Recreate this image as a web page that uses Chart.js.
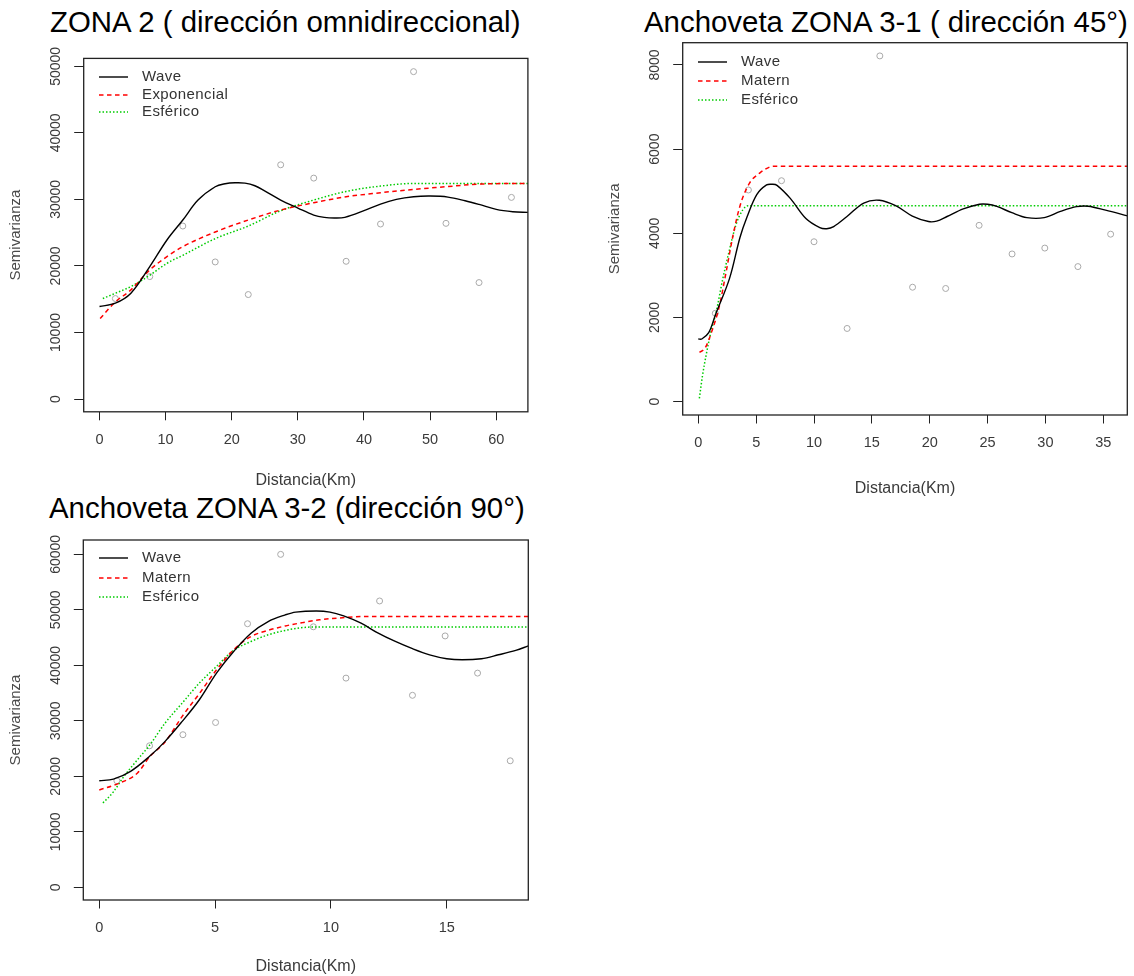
<!DOCTYPE html>
<html lang="es">
<head>
<meta charset="utf-8">
<title>Semivariogramas de anchoveta</title>
<script src="https://cdn.jsdelivr.net/npm/chart.js@4.4.1/dist/chart.umd.min.js"></script>
<style>
  html, body { margin: 0; padding: 0; background: #ffffff; }
  body { position: relative; width: 1134px; height: 976px; overflow: hidden;
         font-family: "Liberation Sans", Arial, sans-serif; }
  .panel-title { position: absolute; margin: 0; font-size: 29.4px; line-height: 34px;
                 font-weight: normal; color: #000; white-space: nowrap; }
  canvas { position: absolute; }
</style>
</head>
<body>
<h2 class="panel-title" style="left:50px; top:4.5px;">ZONA 2 ( dirección omnidireccional)</h2>
<h2 class="panel-title" style="left:644px; top:4.5px;">Anchoveta ZONA 3-1 ( dirección 45°)</h2>
<h2 class="panel-title" style="left:49px; top:491px;">Anchoveta ZONA 3-2 (dirección 90°)</h2>

<canvas id="zona2" width="545" height="490" style="left:0; top:0;"></canvas>
<canvas id="zona31" width="534" height="498" style="left:600px; top:0;"></canvas>
<canvas id="zona32" width="545" height="506" style="left:0; top:470px;"></canvas>

<script>
// ---------- ZONA 2 (omnidireccional) ----------
const zona2Lags  = [2.4, 7.6, 12.6, 17.5, 22.5, 27.4, 32.4, 37.3, 42.5, 47.5, 52.4, 57.4, 62.3];
const zona2Gamma = [15100, 18400, 26000, 20600, 15700, 35200, 33200, 20700, 26300, 49200, 26400, 17500, 30300];
const zona2WaveX = [0, 2.4, 4.75, 7.6, 10.2, 12.6, 14.9, 17.5, 19.0, 20.5, 22.0, 23.5, 25.1, 27.4, 30.0, 32.4, 34.0, 35.5, 37.1, 40.0, 42.5, 44.9, 47.5, 50.0, 52.7, 55.3, 57.4, 60.0, 62.5, 64.8];
const zona2WaveY = [13900, 14400, 15900, 19900, 23900, 26900, 29900, 31900, 32350, 32500, 32450, 32050, 31200, 29900, 28700, 27650, 27300, 27200, 27300, 28300, 29300, 30000, 30400, 30500, 30350, 29800, 29250, 28500, 28150, 28050];
const zona2ExpX  = [0.1, 2.4, 4.75, 7.6, 10.2, 12.6, 17.5, 22.5, 27.4, 32.4, 37.3, 42.5, 47.5, 52.4, 57.4, 64.8];
const zona2ExpY  = [12100, 14600, 16400, 19400, 21400, 22900, 25100, 26900, 28400, 29500, 30400, 31000, 31500, 31900, 32300, 32400];
const zona2SphX  = [0.5, 2.4, 4.75, 7.6, 10.2, 12.6, 17.5, 22.5, 27.4, 32.4, 37.3, 42.5, 47.5, 64.8];
const zona2SphY  = [15100, 15900, 16900, 18600, 20400, 21600, 24100, 26000, 28300, 29900, 31200, 32000, 32400, 32400];
const zona2XTicks = [0, 10, 20, 30, 40, 50, 60];
const zona2YTicks = [0, 10000, 20000, 30000, 40000, 50000];

// ---------- ZONA 3-1 (dirección 45°) ----------
const zona31Lags  = [1.47, 4.33, 7.19, 10.0, 12.86, 15.69, 18.52, 21.38, 24.27, 27.12, 29.95, 32.81, 35.64];
const zona31Gamma = [2100, 5030, 5250, 3800, 1740, 8215, 2720, 2690, 4190, 3510, 3650, 3210, 3980];
const zona31WaveX = [0, 0.3, 0.9, 1.5, 2.7, 3.6, 4.2, 5.05, 5.9, 6.4, 6.8, 7.95, 9.3, 10.5, 11.1, 11.7, 12.85, 14.3, 15.65, 17.1, 18.5, 19.9, 20.6, 21.5, 22.9, 24.3, 25.0, 25.8, 27.1, 28.4, 29.9, 31.3, 32.7, 33.7, 35.2, 37.1];
const zona31WaveY = [1490, 1490, 1640, 2080, 2930, 3900, 4380, 4920, 5150, 5165, 5140, 4830, 4350, 4135, 4110, 4160, 4400, 4720, 4785, 4650, 4410, 4280, 4290, 4400, 4580, 4690, 4690, 4640, 4490, 4373, 4373, 4520, 4634, 4645, 4550, 4415];
const zona31MatX  = [0.1, 0.6, 1.2, 1.8, 2.45, 3.0, 3.6, 4.4, 5.3, 6.2, 6.6, 37.1];
const zona31MatY  = [1170, 1280, 1700, 2250, 3150, 3950, 4650, 5180, 5430, 5580, 5595, 5595];
const zona31SphX  = [0.09, 0.35, 0.72, 1.06, 1.55, 2.1, 2.6, 3.25, 3.85, 4.3, 37.1];
const zona31SphY  = [80, 600, 1170, 1620, 2140, 2900, 3500, 4200, 4560, 4655, 4655];
const zona31XTicks = [0, 5, 10, 15, 20, 25, 30, 35];
const zona31YTicks = [0, 2000, 4000, 6000, 8000];

// ---------- ZONA 3-2 (dirección 90°) ----------
const zona32Lags  = [0.76, 2.17, 3.61, 5.02, 6.4, 7.83, 9.24, 10.65, 12.1, 13.52, 14.93, 16.33, 17.74];
const zona32Gamma = [19200, 25500, 27500, 29700, 47500, 60000, 46950, 37700, 51600, 34600, 45300, 38600, 22800];
const zona32WaveX = [0, 0.61, 1.35, 2.17, 2.84, 3.58, 4.32, 5.06, 5.8, 6.55, 7.29, 8.03, 8.48, 9.37, 9.96, 10.55, 11.3, 12.0, 12.78, 13.52, 14.26, 15.0, 15.67, 16.5, 17.23, 17.98, 18.52];
const zona32WaveY = [19200, 19500, 20900, 23600, 26300, 29900, 33800, 38600, 42500, 45800, 47900, 49100, 49600, 49800, 49600, 48900, 47600, 45900, 44300, 43000, 41900, 41200, 41000, 41200, 41900, 42700, 43500];
const zona32MatX  = [0, 0.76, 1.65, 2.17, 2.84, 3.58, 4.32, 5.06, 5.8, 6.55, 7.29, 8.03, 8.77, 9.5, 10.25, 11.4, 18.52];
const zona32MatY  = [17550, 18600, 20600, 23500, 26200, 30800, 34900, 39200, 42800, 45200, 46300, 47100, 47700, 48200, 48500, 48800, 48800];
const zona32SphX  = [0.16, 0.61, 1.05, 1.65, 2.17, 2.84, 3.58, 4.32, 5.06, 5.8, 6.55, 7.29, 8.03, 8.77, 9.2, 18.52];
const zona32SphY  = [15200, 17200, 19900, 23000, 25600, 29600, 33200, 36800, 39800, 42700, 44300, 45500, 46300, 46800, 46900, 46900];
const zona32XTicks = [0, 5, 10, 15];
const zona32YTicks = [0, 10000, 20000, 30000, 40000, 50000, 60000];

const FONT = '"Liberation Sans", Arial, sans-serif';
const pairs = (xs, ys) => xs.map((x, i) => ({ x: x, y: ys[i] }));

// Fitted model curve (no markers); sill models use monotone splines so the plateau stays flat
function modelLine(label, xs, ys, color, dash, width, monotone) {
  return {
    label: label, data: pairs(xs, ys), showLine: true,
    borderColor: color, borderWidth: width, borderDash: dash,
    pointRadius: 0, pointHoverRadius: 0, fill: false,
    tension: 0.35, cubicInterpolationMode: monotone ? 'monotone' : 'default'
  };
}

// Empirical semivariance: open grey circles
function empirical(xs, ys) {
  return {
    label: 'empírico', isEmpirical: true, data: pairs(xs, ys), showLine: false,
    pointRadius: 3, pointHoverRadius: 3, pointBorderWidth: 1,
    borderColor: '#a9a9a9', backgroundColor: 'rgba(0,0,0,0)'
  };
}

// Box around the plotting region
const plotFrame = {
  id: 'plotFrame',
  afterDraw(chart) {
    const { ctx, chartArea: a } = chart;
    ctx.save();
    ctx.strokeStyle = '#222';
    ctx.lineWidth = 1.3;
    ctx.strokeRect(a.left, a.top, a.right - a.left, a.bottom - a.top);
    ctx.restore();
  }
};

// Legend drawn inside the top-left corner of the plotting region
const insetLegend = {
  id: 'insetLegend',
  afterDatasetsDraw(chart, args, o) {
    const { ctx, chartArea: a } = chart;
    ctx.save();
    ctx.font = o.fontSize + 'px ' + FONT;
    if ('letterSpacing' in ctx) ctx.letterSpacing = o.letterSpacing;
    ctx.textBaseline = 'middle';
    ctx.textAlign = 'left';
    let y = a.top + o.top;
    chart.data.datasets.forEach(ds => {
      if (ds.isEmpirical) return;
      const x0 = Math.round(a.left + o.left);
      const yy = Math.round(y);
      ctx.beginPath();
      ctx.setLineDash(ds.borderDash || []);
      ctx.strokeStyle = ds.borderColor;
      ctx.lineWidth = ds.borderWidth;
      ctx.moveTo(x0, yy);
      ctx.lineTo(x0 + o.lineLength, yy);
      ctx.stroke();
      ctx.setLineDash([]);
      ctx.fillStyle = o.color;
      ctx.fillText(ds.label, x0 + o.textOffset, yy);
      y += o.rowHeight;
    });
    ctx.restore();
  }
};

function variogram(id, p) {
  return new Chart(document.getElementById(id), {
    type: 'scatter',
    data: { datasets: p.datasets },
    plugins: [plotFrame, insetLegend],
    options: {
      responsive: false,
      animation: false,
      events: [],
      layout: { padding: { top: p.padTop, right: p.padRight, left: 0, bottom: 0 } },
      plugins: {
        legend: { display: false },
        tooltip: { enabled: false },
        title: { display: false },
        insetLegend: { left: 15.5, top: p.legendTop, rowHeight: p.legendRow,
                       lineLength: 29, textOffset: 43, fontSize: 15,
                       letterSpacing: '0.4px', color: '#333' }
      },
      scales: {
        x: {
          type: 'linear', position: 'bottom', min: p.xMin, max: p.xMax,
          afterBuildTicks: s => { s.ticks = p.xTicks.map(v => ({ value: v })); },
          afterFit: s => { s.height = p.axisBottom; },
          grid: { drawOnChartArea: false, drawTicks: true, tickLength: 8.5, color: '#222', lineWidth: 1 },
          border: { display: false },
          ticks: { autoSkip: false, minRotation: 0, maxRotation: 0, padding: 10.8,
                   color: '#3a3a3a', font: { family: FONT, size: 14.5 },
                   callback: v => String(v) },
          title: { display: true, text: 'Distancia(Km)', color: '#3a3a3a',
                   font: { family: FONT, size: 16 }, padding: { top: p.xTitlePad, bottom: 0 } }
        },
        y: {
          type: 'linear', position: 'left', min: p.yMin, max: p.yMax,
          afterBuildTicks: s => { s.ticks = p.yTicks.map(v => ({ value: v })); },
          afterFit: s => { s.width = p.axisLeft; },
          grid: { drawOnChartArea: false, drawTicks: true, tickLength: 9.5, color: '#222', lineWidth: 1 },
          border: { display: false },
          ticks: { autoSkip: false, minRotation: 90, maxRotation: 90, crossAlign: 'center',
                   padding: p.yTickPad, color: '#3a3a3a', font: { family: FONT, size: 14 },
                   callback: v => String(v) },
          title: { display: true, text: 'Semivarianza', color: '#4a4a4a',
                   font: { family: FONT, size: 15 }, padding: { top: p.yTitlePad, bottom: 0 } }
        }
      }
    }
  });
}

const RED = '#ff0000', GREEN = '#00cc00', BLACK = '#000000';
const DASHED = [4.5, 3.5], DOTTED = [1.5, 2];

variogram('zona2', {
  datasets: [
    modelLine('Wave', zona2WaveX, zona2WaveY, BLACK, [], 1.4, false),
    modelLine('Exponencial', zona2ExpX, zona2ExpY, RED, DASHED, 1.5, true),
    modelLine('Esférico', zona2SphX, zona2SphY, GREEN, DOTTED, 1.5, true),
    empirical(zona2Lags, zona2Gamma)
  ],
  xMin: -2.39, xMax: 64.79, yMin: -1920, yMax: 51190,
  xTicks: zona2XTicks, yTicks: zona2YTicks,
  padTop: 58.4, padRight: 17.1, axisLeft: 83.7, axisBottom: 78.2,
  yTickPad: -1.3, yTitlePad: 6.8, xTitlePad: 4.5,
  legendTop: 18.3, legendRow: 17.8
});

variogram('zona31', {
  datasets: [
    modelLine('Wave', zona31WaveX, zona31WaveY, BLACK, [], 1.4, false),
    modelLine('Matern', zona31MatX, zona31MatY, RED, DASHED, 1.5, true),
    modelLine('Esférico', zona31SphX, zona31SphY, GREEN, DOTTED, 1.5, true),
    empirical(zona31Lags, zona31Gamma)
  ],
  xMin: -1.35, xMax: 37.08, yMin: -316, yMax: 8529,
  xTicks: zona31XTicks, yTicks: zona31YTicks,
  padTop: 42.7, padRight: 6.7, axisLeft: 82.7, axisBottom: 83,
  yTickPad: 2.6, yTitlePad: 6.3, xTitlePad: 6,
  legendTop: 19, legendRow: 19.2
});

variogram('zona32', {
  datasets: [
    modelLine('Wave', zona32WaveX, zona32WaveY, BLACK, [], 1.4, false),
    modelLine('Matern', zona32MatX, zona32MatY, RED, DASHED, 1.5, true),
    modelLine('Esférico', zona32SphX, zona32SphY, GREEN, DOTTED, 1.5, true),
    empirical(zona32Lags, zona32Gamma)
  ],
  xMin: -0.69, xMax: 18.52, yMin: -2290, yMax: 62590,
  xTicks: zona32XTicks, yTicks: zona32YTicks,
  padTop: 70, padRight: 16.7, axisLeft: 83.3, axisBottom: 76,
  yTickPad: -1.7, yTitlePad: 6.5, xTitlePad: 3.2,
  legendTop: 18.3, legendRow: 19.2
});
</script>
</body>
</html>
